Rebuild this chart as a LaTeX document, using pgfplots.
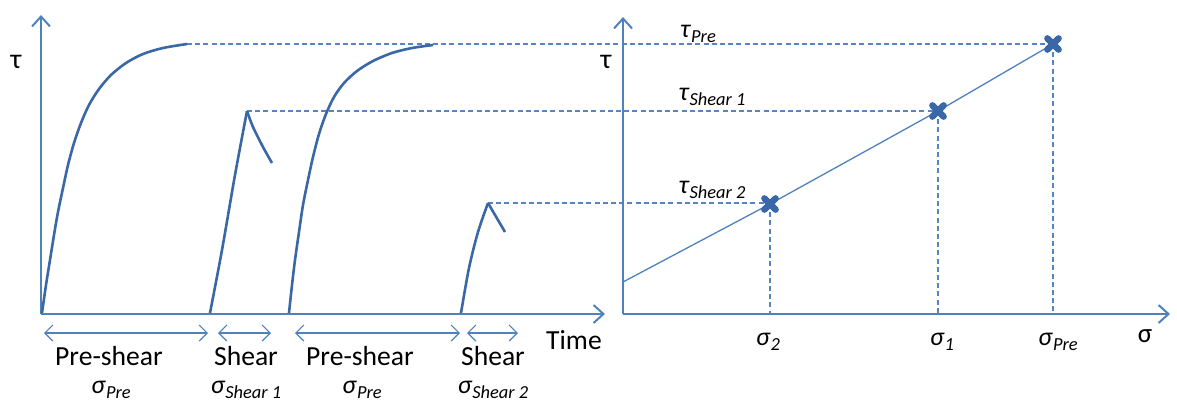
\documentclass[border=0pt]{standalone}
\usepackage{pgfplots}
\pgfplotsset{compat=1.18}
\usepackage{fontspec}
\setmainfont{Carlito}
\usetikzlibrary{arrows.meta}
\definecolor{curveblue}{HTML}{3A67A6}
\definecolor{axisblue}{HTML}{4F81BD}
\definecolor{dashblue}{HTML}{5585C5}
\newcommand{\sub}[1]{\raisebox{-0.45ex}{\fontsize{9.2}{11}\selectfont\itshape #1}}
\begin{document}
\begin{tikzpicture}
\begin{axis}[
  scale only axis, width=588.5pt, height=201.5pt,
  xmin=0, xmax=1177, ymin=0, ymax=403, y dir=reverse,
  hide axis, clip=false,
]
% invisible frame
\addplot[draw=none] coordinates {(0,0) (1177,403)};
% dashed guide lines
\addplot[dashblue, line width=0.6pt, dash pattern=on 2.5pt off 1.6pt] coordinates {(187,44) (1053,44)};
\addplot[dashblue, line width=0.6pt, dash pattern=on 2.5pt off 1.6pt] coordinates {(247,111) (938,111)};
\addplot[dashblue, line width=0.6pt, dash pattern=on 2.5pt off 1.6pt] coordinates {(488,203) (770,203)};
\addplot[dashblue, line width=0.6pt, dash pattern=on 2.5pt off 1.6pt] coordinates {(770,204) (770,313)};
\addplot[dashblue, line width=0.6pt, dash pattern=on 2.5pt off 1.6pt] coordinates {(938,111) (938,313)};
\addplot[dashblue, line width=0.6pt, dash pattern=on 2.5pt off 1.6pt] coordinates {(1053,44) (1053,313)};
% left axes
\addplot[axisblue, line width=1pt, -{Straight Barb[length=5pt,width=9pt]}] coordinates {(41,314) (41,15)};
\addplot[axisblue, line width=1pt, -{Straight Barb[length=5pt,width=9pt]}] coordinates {(41,314) (605,314)};
% right axes
\addplot[axisblue, line width=1pt, -{Straight Barb[length=5pt,width=9pt]}] coordinates {(623,314) (623,17)};
\addplot[axisblue, line width=1pt, -{Straight Barb[length=5pt,width=9pt]}] coordinates {(623,314) (1170,314)};
% curves
\addplot[curveblue, line width=1.3pt, smooth] coordinates {
 (42,313) (46,285) (50,260) (54,235) (58,212) (63,188) (68,165) (74,143) (81,123) (89,105) (99,89) (111,75) (126,63) (143,54) (163,48) (187,44)};
\addplot[curveblue, line width=1.3pt, smooth] coordinates {(210,313) (222,250) (235,175) (247,111)};
\addplot[curveblue, line width=1.3pt, smooth, tension=0.5] coordinates {(247,111) (253,127) (263,147) (272,163)};
\addplot[curveblue, line width=1.3pt, smooth] coordinates {
 (289,313) (292,285) (295,260) (299,232) (303,205) (308,180) (313,157) (319,134) (326,114) (334,97) (344,83) (357,71) (373,61) (392,53) (412,48) (433,45)};
\addplot[curveblue, line width=1.3pt, smooth, tension=0.5] coordinates {(461,313) (469,268) (478,232) (488,203)};
\addplot[curveblue, line width=1.3pt] coordinates {(488,203) (505,232)};
% failure envelope
\addplot[axisblue, line width=0.65pt] coordinates {(623,282) (770,204) (938,111) (1053,44)};
\addplot[only marks, mark=x, mark size=4pt, mark options={curveblue, line width=3.2pt, line cap=round}]
  coordinates {(770,204) (938,111) (1053,44)};
% double arrows below
\addplot[axisblue, line width=0.6pt, {Straight Barb[length=4pt,width=8pt]}-{Straight Barb[length=4pt,width=8pt]}] coordinates {(44,333) (208,333)};
\addplot[axisblue, line width=0.6pt, {Straight Barb[length=4pt,width=8pt]}-{Straight Barb[length=4pt,width=8pt]}] coordinates {(218,333) (271,333)};
\addplot[axisblue, line width=0.6pt, {Straight Barb[length=4pt,width=8pt]}-{Straight Barb[length=4pt,width=8pt]}] coordinates {(295,333) (460,333)};
\addplot[axisblue, line width=0.6pt, {Straight Barb[length=4pt,width=8pt]}-{Straight Barb[length=4pt,width=8pt]}] coordinates {(467,333) (518,333)};
% texts
\node[font=\fontsize{14}{16}\selectfont] at (axis cs:16,62) {τ};
\node[font=\fontsize{14}{16}\selectfont] at (axis cs:606,62) {τ};
\node[font=\fontsize{13.5}{16}\selectfont] at (axis cs:1145,336) {σ};
\node[font=\fontsize{13.8}{16}\selectfont] at (axis cs:574,340) {Time};
\node[font=\fontsize{13.8}{16}\selectfont] at (axis cs:109,356) {Pre-shear};
\node[font=\fontsize{13.8}{16}\selectfont] at (axis cs:246,356) {Shear};
\node[font=\fontsize{13.8}{16}\selectfont] at (axis cs:360,356) {Pre-shear};
\node[font=\fontsize{13.8}{16}\selectfont] at (axis cs:493,356) {Shear};
\node[font=\fontsize{13}{15}\selectfont] at (axis cs:111,390) {\textit{σ}\sub{Pre}};
\node[font=\fontsize{13}{15}\selectfont] at (axis cs:246,390) {\textit{σ}\sub{Shear 1}};
\node[font=\fontsize{13}{15}\selectfont] at (axis cs:362,390) {\textit{σ}\sub{Pre}};
\node[font=\fontsize{13}{15}\selectfont] at (axis cs:493,390) {\textit{σ}\sub{Shear 2}};
\node[font=\fontsize{13}{15}\selectfont] at (axis cs:698,34) {\textit{τ}\sub{Pre}};
\node[font=\fontsize{13}{15}\selectfont] at (axis cs:712,97) {\textit{τ}\sub{Shear 1}};
\node[font=\fontsize{13}{15}\selectfont] at (axis cs:712,190) {\textit{τ}\sub{Shear 2}};
\node[font=\fontsize{13}{15}\selectfont] at (axis cs:768,342) {\textit{σ}\sub{2}};
\node[font=\fontsize{13}{15}\selectfont] at (axis cs:942,342) {\textit{σ}\sub{1}};
\node[font=\fontsize{13}{15}\selectfont] at (axis cs:1058,342) {\textit{σ}\sub{Pre}};
\end{axis}
\end{tikzpicture}
\end{document}
